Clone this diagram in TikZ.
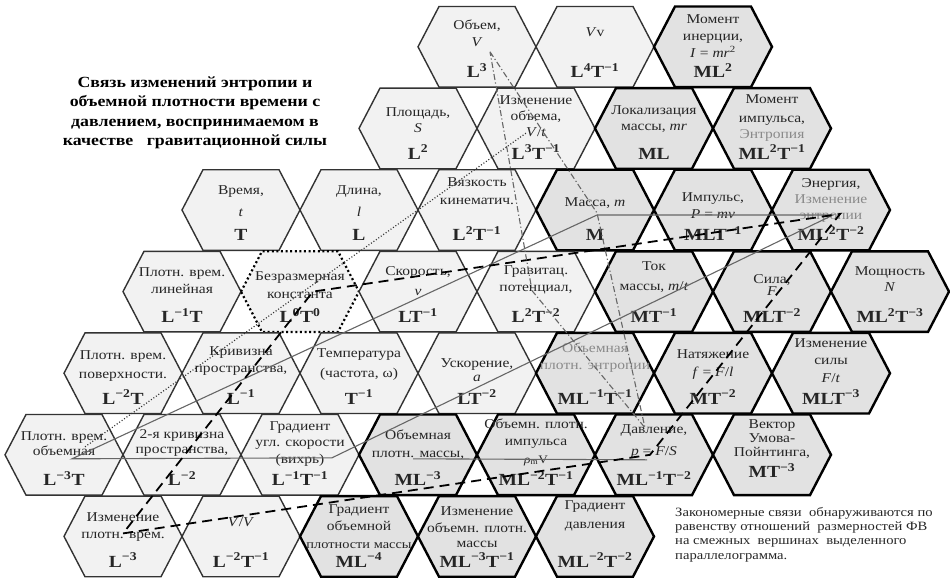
\documentclass[tikz,border=0pt]{standalone}
\usepackage{fontspec}
\setmainfont[FakeStretch=1.15]{Liberation Serif}
\usetikzlibrary{calc}
\definecolor{ink}{HTML}{262626}
\definecolor{muted}{HTML}{8A8A8A}
\definecolor{edge}{HTML}{333333}
\definecolor{paper}{HTML}{F2F2F2}
\definecolor{shade}{HTML}{E2E2E2}
\definecolor{wire}{HTML}{666666}
\newcommand{\dimf}{\bfseries\fontsize{17}{16}\selectfont}
\newcommand{\pw}[1]{\textsuperscript{#1}}
\newcommand{\gr}[1]{\textcolor{muted}{#1}}
\tikzset{
  hx/.style={draw=edge, line width=1.4pt, fill=paper},
  hxm/.style={hx, draw=black, line width=2.4pt, fill=shade},
  hxd/.style={hx, draw=black, line width=2.2pt, dash pattern=on 2pt off 2.6pt},
  cell/.style={text=ink, font=\fontsize{13.5}{16}\selectfont, align=center, inner sep=0pt, anchor=south},
  head/.style={text=black, font=\bfseries\fontsize{15.5}{19.5}\selectfont, align=center, inner sep=0pt},
  note/.style={text=ink, font=\fontsize{12.7}{14.3}\selectfont, align=left, inner sep=0pt},
  rel/.style={wire, line width=1.1pt},
  relq/.style={black, line width=1.8pt, dash pattern=on 10pt off 6pt},
  reld/.style={wire, line width=1.1pt, dash pattern=on 6pt off 2.5pt on 1.2pt off 2.5pt},
  relp/.style={edge, line width=1.2pt, dash pattern=on 1pt off 2pt},
}
\newcommand{\hexcell}[5][hx]{%
  \coordinate (#2-h) at ({64+59*#3},{46.8+81.6*#4});
  \draw[#1] (#2-h) +(-59,0) -- +(-38,-40.3) -- +(38,-40.3) -- +(59,0) -- +(38,40.3) -- +(-38,40.3) -- cycle;
  \node[cell] (#2) at ($(#2-h)+(0,31)$) {#5};}

\begin{document}
\begin{tikzpicture}[x=1pt, y=-1pt]
  \useasboundingbox (0,0) rectangle (950,579);
  \hexcell{vol}{7}{0}{Объем,\\[1pt]\textit{V}\\[15pt]\dimf L\pw{3}}
  \hexcell{vvel}{9}{0}{\textit{V}v\\[25pt]\dimf L\pw{4}T\pw{−1}}
  \hexcell[hxm]{minert}{11}{0}{Момент\\[1pt]инерции,\\[1pt]\textit{I} = \textit{mr}\pw{2}\\[4pt]\dimf ML\pw{2}}
  \hexcell{area}{6}{1}{Площадь,\\\textit{S}\\[11pt]\dimf L\pw{2}}
  \hexcell{dvol}{8}{1}{Изменение\\объема,\\\textit{V}/\textit{t}\\[7pt]\dimf L\pw{3}T\pw{−1}}
  \hexcell[hxm]{locm}{10}{1}{Локализация\\массы, \textit{mr}\\[13pt]\dimf ML}
  \hexcell[hxm]{angmom}{12}{1}{Момент\\[3pt]импульса,\\\gr{Энтропия}\\[3pt]\dimf ML\pw{2}T\pw{−1}}
  \hexcell{time}{3}{2}{Время,\\[6pt]\textit{t}\\[8pt]\dimf T}
  \hexcell{length}{5}{2}{Длина,\\[6pt]\textit{l}\\[8pt]\dimf L}
  \hexcell{visc}{7}{2}{Вязкость\\[2pt]кинематич.\\[20pt]\dimf L\pw{2}T\pw{−1}}
  \hexcell[hxm]{mass}{9}{2}{Масса, \textit{m}\\[18pt]\dimf M}
  \hexcell[hxm]{mom}{11}{2}{Импульс,\\[1pt]\textit{P} = \textit{mv}\\[6pt]\dimf MLT\pw{−1}}
  \hexcell[hxm]{energy}{13}{2}{Энергия,\\\gr{Изменение}\\\gr{энтропии}\\[3pt]\dimf ML\pw{2}T\pw{−2}}
  \hexcell{tlin}{2}{3}{Плотн. врем.\\[1pt]линейная\\[13pt]\dimf L\pw{−1}T}
  \hexcell[hxd]{dimless}{4}{3}{Безразмерная\\[2pt]константа\\[8pt]\dimf L\pw{0}T\pw{0}}
  \hexcell{speed}{6}{3}{Скорость,\\[4pt]\textit{v}\\[11pt]\dimf LT\pw{−1}}
  \hexcell{gpot}{8}{3}{Гравитац.\\[1pt]потенциал,\\[13pt]\dimf L\pw{2}T\pw{−2}}
  \hexcell[hxm]{mflow}{10}{3}{Ток\\[4pt]массы, \textit{m}/\textit{t}\\[15pt]\dimf MT\pw{−1}}
  \hexcell[hxm]{force}{12}{3}{Сила,\\[-4pt]\textit{F}\\[11pt]\dimf MLT\pw{−2}}
  \hexcell[hxm]{power}{14}{3}{Мощность\\\textit{N}\\[15pt]\dimf ML\pw{2}T\pw{−3}}
  \hexcell{tsurf}{1}{4}{Плотн. врем.\\[3pt]поверхности.\\[7pt]\dimf L\pw{−2}T}
  \hexcell{curv}{3}{4}{Кривизна\\[1pt]пространства,\\[14pt]\dimf L\pw{−1}}
  \hexcell{temp}{5}{4}{Температура\\[4pt](частота, ω)\\[9pt]\dimf T\pw{−1}}
  \hexcell{accel}{7}{4}{Ускорение,\\[-2pt]\textit{a}\\[7pt]\dimf LT\pw{−2}}
  \hexcell[hxm]{sentr}{9}{4}{\gr{Объемная}\\[1pt]\gr{плотн. энтропии}\\[17pt]\dimf ML\pw{−1}T\pw{−1}}
  \hexcell[hxm]{tens}{11}{4}{Натяжение\\[2pt]\textit{f} = \textit{F}/\textit{l}\\[9pt]\dimf MT\pw{−2}}
  \hexcell[hxm]{dforce}{13}{4}{Изменение\\[1pt]силы\\[2pt]\textit{F}/\textit{t}\\[6pt]\dimf MLT\pw{−3}}
  \hexcell{tvol}{0}{5}{Плотн. врем.\\[-1pt]объемная\\[14pt]\dimf L\pw{−3}T}
  \hexcell{curv2}{2}{5}{2-я кривизна\\[-1pt]пространства,\\[14pt]\dimf L\pw{−2}}
  \hexcell{vort}{4}{5}{Градиент\\угл. скорости\\[1pt](вихрь)\\[4pt]\dimf L\pw{−1}T\pw{−1}}
  \hexcell[hxm]{rhom}{6}{5}{Объемная\\[2pt]плотн. массы,\\[11pt]\dimf ML\pw{−3}}
  \hexcell[hxm]{rhop}{8}{5}{Объемн. плотн.\\[1pt]импульса\\[2pt]{\fontsize{11.5}{16}\selectfont\textit{ρ}\textsubscript{m}V}\\[5pt]\dimf ML\pw{−2}T\pw{−1}}
  \hexcell[hxm]{press}{10}{5}{Давление,\\[6pt]\textit{p} = \textit{F}/\textit{S}\\[12pt]\dimf ML\pw{−1}T\pw{−2}}
  \hexcell[hxm]{poynt}{12}{5}{Вектор\\[-2pt]Умова-\\[-2pt]Пойнтинга,\\[4pt]\dimf MT\pw{−3}\\[-8pt]\mbox{}}
  \hexcell{dtvol}{1}{6}{Изменение\\[1pt]плотн. врем.\\[11pt]\dimf L\pw{−3}}
  \hexcell{gradv}{3}{6}{\textit{V}/\textit{V}\\[25pt]\dimf L\pw{−2}T\pw{−1}}
  \hexcell[hxm]{gradrho}{5}{6}{Градиент\\[1pt]объемной\\[2pt]{\fontsize{12.5}{16}\selectfont плотности массы}\\[3pt]\dimf ML\pw{−4}}
  \hexcell[hxm]{drho}{7}{6}{Изменение\\[1pt]объемн. плотн.\\[-1pt]массы\\[4pt]\dimf ML\pw{−3}T\pw{−1}}
  \hexcell[hxm]{gradp}{9}{6}{Градиент\\[3pt]давления\\[21pt]\dimf ML\pw{−2}T\pw{−2}}
  \node[head] (title) at (195,113) {Связь изменений энтропии и\\объемной плотности времени с\\давлением, воспринимаемом в\\качестве\ \ \ гравитационной силы};
  \node[note, anchor=north west] (rule) at (675,507) {Закономерные связи\ \ обнаруживаются по\\равенству отношений\ \ размерностей ФВ\\на смежных\ \ вершинах\ \ выделенного\\параллелограмма.};
  \draw[rel] ($(tvol-h)+(8,4)$) -- ($(mass-h)+(2,5)$) -- ($(energy-h)+(2,5)$) -- ($(vort-h)+(32,3)$) -- cycle;
  \draw[rel] ($(rhom-h)+(-5,4)$) -- ($(press-h)+(-7,5)$);
  \draw[relq] ($(dtvol-h)+(0,-3)$) -- ($(press-h)+(-4,0)$) -- ($(energy-h)+(9,4)$) -- ($(dimless-h)+(13,0)$) -- cycle;
  \draw[reld] ($(vol-h)+(13,5)$) -- ($(mass-h)+(2,3)$) -- ($(press-h)+(-9,-27)$) -- ($(gpot-h)+(-4,-1)$) -- cycle;
  \draw[relp] ($(tvol-h)+(21,-8)$) -- ($(dvol-h)+(-9,4)$);
\end{tikzpicture}
\end{document}
